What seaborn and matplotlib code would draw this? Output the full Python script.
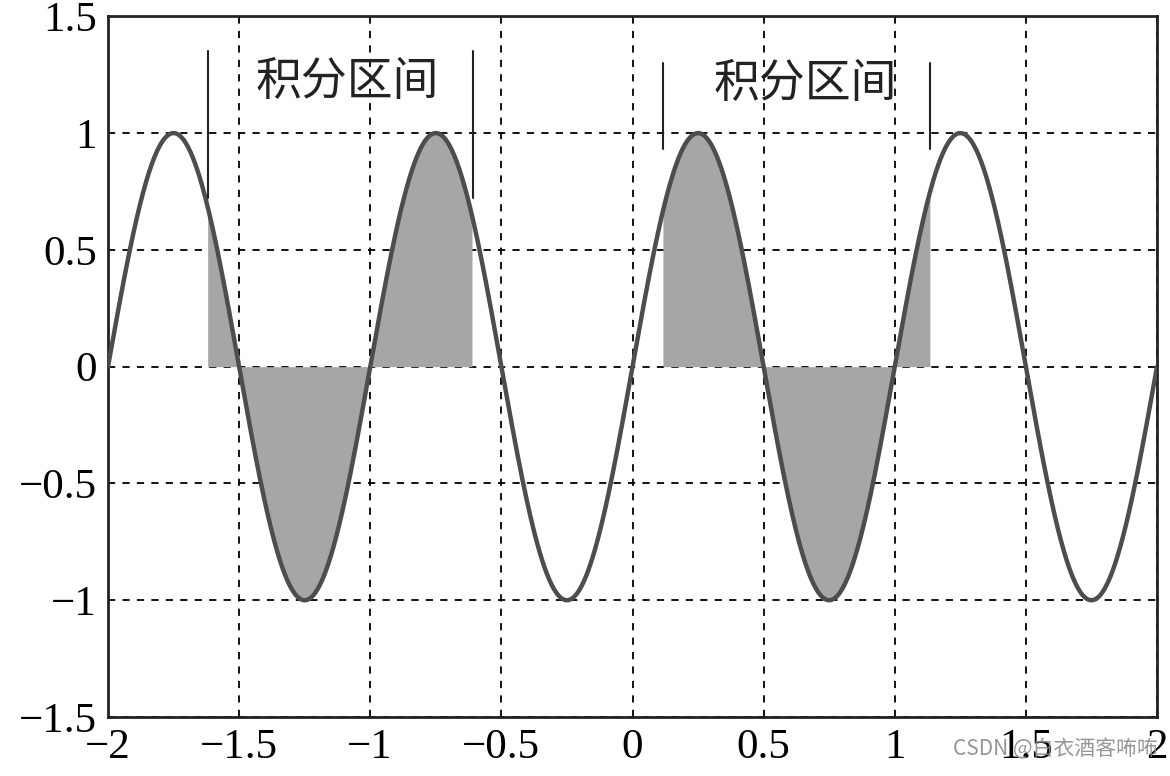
import numpy as np
import pandas as pd
import matplotlib
matplotlib.use("Agg")
import matplotlib.pyplot as plt
import seaborn as sns

# curve parameters (y = amplitude * sin(2*pi*freq*x))
x_range = [-2, 2]
freq = 1.0
amplitude = 1.0

# integration intervals and label text
intervals = [(-1.62, -0.61), (0.115, 1.135)]
marker_spans = [(0.72, 1.35), (0.93, 1.30)]
label_text = "积分区间"
label_pos = [(-1.086, 1.22), (0.658, 1.21)]

x_ticks = [-2, -1.5, -1, -0.5, 0, 0.5, 1, 1.5, 2]
y_ticks = [-1.5, -1, -0.5, 0, 0.5, 1, 1.5]

x = np.linspace(x_range[0], x_range[1], 2001)
df = pd.DataFrame({"x": x, "y": amplitude * np.sin(2 * np.pi * freq * x)})

sns.set_style("white")
plt.rcParams["font.family"] = ["Liberation Serif", "Noto Sans CJK SC", "DejaVu Sans"]

fig = plt.figure(figsize=(11.7, 7.76), dpi=100)
ax = fig.add_axes([0.0923, 0.076, 0.8966, 0.903])

for lo, hi in intervals:
    m = (df.x >= lo) & (df.x <= hi)
    ax.fill_between(df.x[m], 0, df.y[m], color="#a6a6a6", linewidth=0, zorder=1)

sns.lineplot(data=df, x="x", y="y", ax=ax, color="#4d4d4d", linewidth=3.2, zorder=3)

for (lo, hi), (y0, y1) in zip(intervals, marker_spans):
    ax.plot([lo, lo], [y0, y1], color="#222222", linewidth=1.5, zorder=4)
    ax.plot([hi, hi], [y0, y1], color="#222222", linewidth=1.5, zorder=4)

for px, py in label_pos:
    ax.text(px, py, label_text, fontsize=33, ha="center", va="center",
            family=["Noto Sans CJK SC"], fontweight="light", color="#222222", zorder=5)

ax.set_xlim(x_range)
ax.set_ylim(-1.5, 1.5)
ax.set_xticks(x_ticks)
ax.set_yticks(y_ticks)
ax.set_xticklabels([f"{t:g}".replace("-", "\u2212") for t in x_ticks])
ax.set_yticklabels([f"{t:g}".replace("-", "\u2212") for t in y_ticks])
ax.grid(True, color="black", linestyle=(0, (4, 4)), linewidth=1.3)
ax.tick_params(axis="both", direction="in", length=8, width=1.5,
               labelsize=31, colors="black", pad=8)
ax.set_xlabel("")
ax.set_ylabel("")
for s in ax.spines.values():
    s.set_color("#222222")
    s.set_linewidth(2)
    s.set_visible(True)

fig.text(0.99, 0.034, "CSDN @白衣酒客咘咘", ha="right", va="center", fontsize=15,
         color="#8a8a8a", alpha=0.9, family=["Noto Sans CJK SC", "DejaVu Sans"])

fig.savefig("out.png", dpi=100)
